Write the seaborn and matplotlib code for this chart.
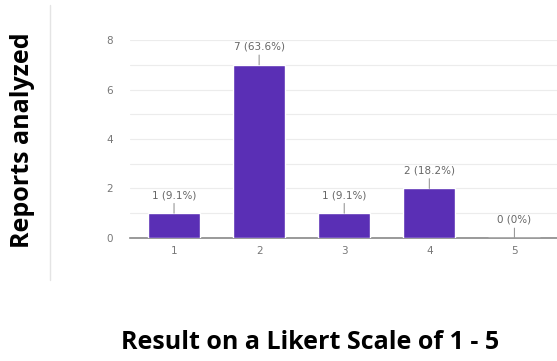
import matplotlib
matplotlib.use("Agg")
import matplotlib.pyplot as plt
import seaborn as sns
import pandas as pd
from matplotlib.lines import Line2D

# Likert results
categories = ["1", "2", "3", "4", "5"]
counts = [1, 7, 1, 2, 0]
labels = ["1 (9.1%)", "7 (63.6%)", "1 (9.1%)", "2 (18.2%)", "0 (0%)"]
y_ticks = [0, 2, 4, 6, 8]

df = pd.DataFrame({"score": categories, "count": counts})

sns.set_theme(style="white")
plt.rcParams['font.family'] = ['DejaVu Sans']

fig = plt.figure(figsize=(5.57, 3.61), dpi=100)
ax = fig.add_axes([0.233, 0.341, 0.767, 0.548])

sns.barplot(data=df, x="score", y="count", color="#5a2fb5", width=0.61,
            saturation=1, ax=ax, zorder=3)

ax.set_ylim(0, 8)
ax.set_xlim(-0.52, 4.5)
ax.set_yticks(y_ticks)
ax.set_yticks(range(0, 9), minor=True)
ax.grid(axis="y", which="both", color="#ececec", lw=0.8, zorder=0)
ax.tick_params(axis="both", length=0, labelsize=7.5, colors="#777777")
ax.tick_params(axis="y", pad=12)
ax.tick_params(axis="x", pad=6)
for s in ["top", "right", "left"]:
    ax.spines[s].set_visible(False)
ax.spines["bottom"].set_color("#888888")
ax.spines["bottom"].set_linewidth(1.2)
ax.set_xlabel("")
ax.set_ylabel("")

for i, (v, t) in enumerate(zip(counts, labels)):
    ax.annotate(t, xy=(i, v), xytext=(0, 13), textcoords="offset pixels",
                ha="center", va="bottom", fontsize=7.5, color="#666666",
                arrowprops=dict(arrowstyle="-", color="#999999", lw=0.8,
                                shrinkA=0, shrinkB=0))

fig.text(0.04, 0.612, "Reports analyzed", rotation=90, ha="center", va="center",
         fontsize=18, fontweight="bold", color="black",
         family=["Open Sans", "DejaVu Sans"])
fig.text(0.557, 0.05, "Result on a Likert Scale of 1 - 5", ha="center", va="center",
         fontsize=18, fontweight="bold", color="black",
         family=["Open Sans", "DejaVu Sans"])

fig.add_artist(Line2D([0.09, 0.09], [0.224, 0.986], color="#e4e4e4", lw=1))

fig.savefig("out.png", dpi=100)
